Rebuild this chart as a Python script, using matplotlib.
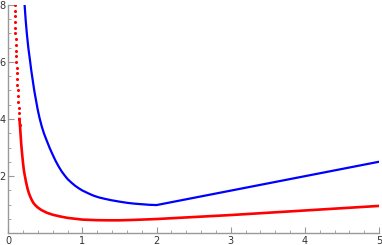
import numpy as np
import matplotlib
matplotlib.use("Agg")
import matplotlib.pyplot as plt
from matplotlib.ticker import MultipleLocator

# blue curve
blue_x = [0.22, 0.235, 0.25, 0.27, 0.293, 0.31, 0.33, 0.35, 0.373, 0.395, 0.42,
          0.45, 0.48, 0.517, 0.56, 0.6, 0.64, 0.68, 0.72, 0.76, 0.8, 0.85, 0.9,
          0.95, 1.0, 1.08, 1.15, 1.22, 1.3, 1.39, 1.5, 1.6, 1.7, 1.8, 1.9, 2.0, 5.0]
blue_y = [8.0, 7.45, 7.0, 6.5, 6.05, 5.7, 5.35, 5.0, 4.67, 4.35, 4.05,
          3.75, 3.5, 3.25, 2.97, 2.74, 2.52, 2.33, 2.16, 2.02, 1.89, 1.77, 1.66,
          1.57, 1.49, 1.39, 1.31, 1.25, 1.2, 1.15, 1.1, 1.06, 1.03, 1.01, 0.99, 0.98, 2.5]

# red points, sparse near the top
red_dot_x = [0.086, 0.088, 0.09, 0.092, 0.094, 0.096, 0.098, 0.1, 0.102, 0.105,
             0.108, 0.111, 0.114, 0.117, 0.121, 0.125, 0.13, 0.135, 0.14, 0.145,
             0.15, 0.154]
red_dot_y = [8.0, 7.8, 7.6, 7.4, 7.2, 7.0, 6.8, 6.6, 6.4, 6.2,
             6.0, 5.8, 5.6, 5.4, 5.2, 5.0, 4.8, 4.6, 4.4, 4.2,
             4.0, 3.8]

# red points, dense part
red_x = [0.15, 0.158, 0.167, 0.175, 0.187, 0.2, 0.21, 0.22, 0.24, 0.26, 0.28,
         0.3, 0.32, 0.34, 0.37, 0.4, 0.45, 0.52, 0.6, 0.7, 0.8, 0.9, 1.0, 1.1,
         1.2, 1.35, 1.5, 1.7, 2.0, 2.5, 3.0, 3.5, 4.0, 4.5, 5.0]
red_y = [4.0, 3.75, 3.4, 3.1, 2.75, 2.42, 2.2, 2.05, 1.78, 1.55, 1.38,
         1.25, 1.14, 1.05, 0.96, 0.89, 0.8, 0.71, 0.64, 0.58, 0.53, 0.5, 0.47, 0.46,
         0.45, 0.445, 0.445, 0.46, 0.49, 0.56, 0.63, 0.71, 0.79, 0.87, 0.95]

xticks = [0, 1, 2, 3, 4, 5]
yticks = [2, 4, 6, 8]

fig = plt.figure(figsize=(3.82, 2.45), dpi=100)
ax = fig.add_axes([8.3 / 382, 12 / 245, (379 - 8.3) / 382, 228 / 245])

ax.plot(blue_x, blue_y, color="#0000ff", lw=1.6, solid_joinstyle="round")
ax.plot(red_x, red_y, color="#ff0000", lw=1.9, solid_joinstyle="round")
ax.plot(red_dot_x, red_dot_y, "o", color="#ff0000", ms=2.2, mew=0)

ax.set_xlim(0, 5)
ax.set_ylim(0, 8)

ax.spines["top"].set_visible(False)
ax.spines["right"].set_visible(False)
for s in ["left", "bottom"]:
    ax.spines[s].set_color("#999999")
    ax.spines[s].set_linewidth(1.0)

ax.set_xticks(xticks)
ax.set_yticks(yticks)
ax.xaxis.set_minor_locator(MultipleLocator(0.2))
ax.yaxis.set_minor_locator(MultipleLocator(0.5))
ax.tick_params(which="major", direction="in", length=4, width=0.8,
               color="#999999", labelsize=7, labelcolor="#333333", pad=2)
ax.tick_params(which="minor", direction="in", length=2.2, width=0.6,
               color="#999999")

fig.savefig("out.png", dpi=100)
